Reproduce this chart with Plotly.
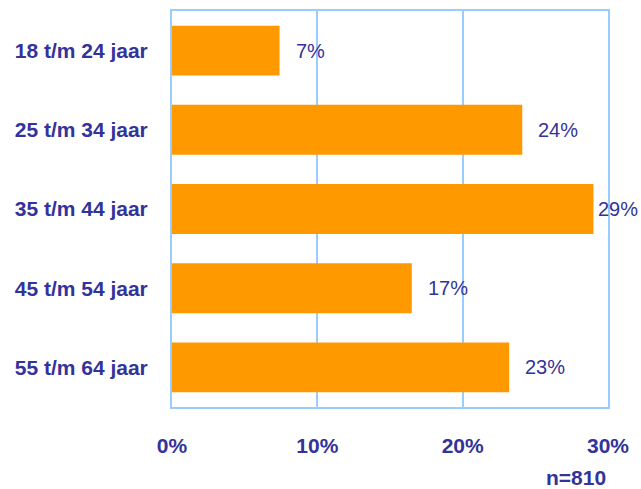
import plotly.graph_objects as go

categories = ["18 t/m 24 jaar", "25 t/m 34 jaar", "35 t/m 44 jaar", "45 t/m 54 jaar", "55 t/m 64 jaar"]
values = [7.4, 24.1, 29.0, 16.5, 23.2]
value_labels = ["7%", "24%", "29%", "17%", "23%"]
tick_vals = [0, 10, 20, 30]
tick_text = ["0%", "10%", "20%", "30%"]
note = "n=810"

NAVY = "#333399"
GRID = "#99CCFF"
FONT = "Liberation Sans, Arial, sans-serif"

fig = go.Figure()
fig.add_trace(go.Bar(
    x=values, y=categories, orientation="h",
    marker=dict(color="#FF9900", line=dict(width=0)),
    hoverinfo="skip",
))

for c, v, t in zip(categories, values, value_labels):
    fig.add_annotation(
        x=v, y=c, xref="x", yref="y", text=t, showarrow=False,
        xanchor="left", xshift=14 if v < 28 else 3,
        font=dict(family=FONT, size=20, color=NAVY),
    )

fig.add_annotation(
    x=1, y=0, xref="paper", yref="paper", text="<b>" + note + "</b>",
    showarrow=False, xanchor="right", yanchor="top", yshift=-57,
    font=dict(family=FONT, size=21, color=NAVY),
)

fig.update_layout(
    width=641, height=489,
    margin=dict(l=172, r=33, t=11, b=82, autoexpand=False),
    paper_bgcolor="white", plot_bgcolor="white",
    bargap=0.37, showlegend=False,
    font=dict(family=FONT, color=NAVY),
)
fig.update_xaxes(
    range=[0, 30], tickvals=tick_vals, ticktext=["<b>" + s + "</b>" for s in tick_text],
    tickfont=dict(family=FONT, size=21, color=NAVY),
    showgrid=True, gridcolor=GRID, gridwidth=2,
    showline=True, linecolor=GRID, linewidth=2, mirror=True,
    zeroline=False, ticks="", ticklabelstandoff=19, automargin=False,
)
fig.update_yaxes(
    autorange="reversed",
    tickvals=categories, ticktext=["<b>" + s + "</b>" for s in categories],
    tickfont=dict(family=FONT, size=21, color=NAVY),
    showgrid=False, showline=True, linecolor=GRID, linewidth=2, mirror=True,
    ticks="", ticklabelstandoff=18, automargin=False,
)

# remove the browser's default 8px body margin so the figure fills the window
fig.write_html(
    "out.html",
    config={"displayModeBar": False},
    post_script="document.body.style.margin='0';document.body.style.overflow='hidden';",
)
